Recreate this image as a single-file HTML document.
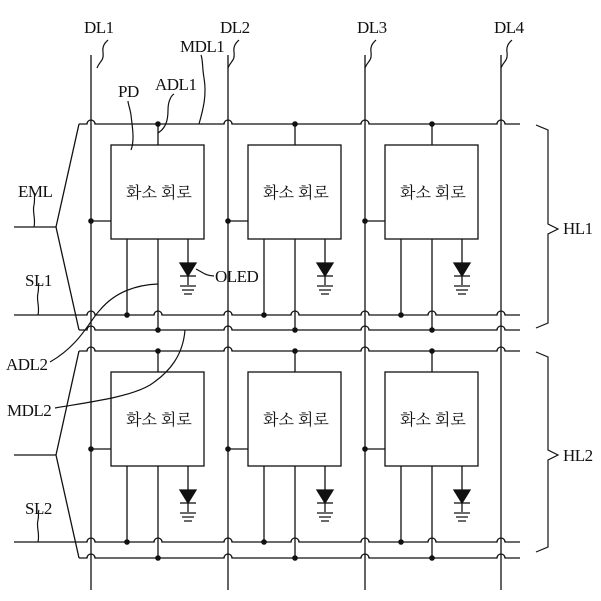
<!DOCTYPE html>
<html><head><meta charset="utf-8"><style>
html,body{margin:0;padding:0;background:#fff;}
svg{display:block;}
text{font-family:"Liberation Serif","Noto Serif CJK SC",serif;fill:#111;}
.k{font-family:"Liberation Serif","Noto Serif CJK SC","Noto Serif CJK KR",serif;font-size:16px;}
</style></head><body>
<svg id="s" width="601" height="601" viewBox="0 0 601 601" xmlns="http://www.w3.org/2000/svg">
<g id="g" stroke="#111" stroke-width="1.3" fill="none"></g>
<g fill="#111" font-size="17" letter-spacing="-0.5">
<text x="84" y="33">DL1</text>
<text x="220" y="33">DL2</text>
<text x="357" y="33">DL3</text>
<text x="494" y="33">DL4</text>
<text x="180" y="52">MDL1</text>
<text x="155" y="90">ADL1</text>
<text x="118" y="97">PD</text>
<text x="18" y="197">EML</text>
<text x="25" y="286">SL1</text>
<text x="215" y="282">OLED</text>
<text x="6" y="370">ADL2</text>
<text x="7" y="416">MDL2</text>
<text x="25" y="514">SL2</text>
<text x="563" y="234">HL1</text>
<text x="563" y="461">HL2</text>
</g>
<g>
<text class="k" x="126" y="198">화소 회로</text>
<text class="k" x="263" y="198">화소 회로</text>
<text class="k" x="400" y="198">화소 회로</text>
<text class="k" x="126" y="425">화소 회로</text>
<text class="k" x="263" y="425">화소 회로</text>
<text class="k" x="400" y="425">화소 회로</text>
</g>
<g stroke="#111" stroke-width="1.2" fill="none">
<path d="M97 68 C100 60,104 62,103 52 C102 45,106 42,108 40"/>
<path d="M228 68 C231 60,235 62,234 52 C233 45,237 42,239 40"/>
<path d="M365 68 C368 60,372 62,371 52 C370 45,374 42,376 40"/>
<path d="M501 68 C504 60,508 62,507 52 C506 45,510 42,512 40"/>
<path d="M199 124 C203 110,207 95,204 78 C202 66,203 60,201 55"/>
<path d="M158 133 C166 128,168 120,168 110 C168 100,172 95,174 94"/>
<path d="M131 150 C135 140,132 125,131 115 C130 108,128 104,128 101"/>
<path d="M34 227 C36 218,32 212,34 205 C35 200,34 195,35 193"/>
<path d="M38 315 C40 306,36 300,38 293 C39 288,38 285,39 283"/>
<path d="M38 542 C40 533,36 527,38 520 C39 515,38 512,39 510"/>
<path d="M196 269 C202 272,206 276,214 276"/>
<path d="M50 362 C80 345,90 320,100 310 C115 292,135 285,158 284"/>
<path d="M55 408 C90 402,130 397,150 385 C170 372,183 355,185 330"/>
<path d="M536 125 L548 130 L548 224 L558 229 L548 234 L548 323 L536 328"/>
<path d="M536 352 L548 357 L548 450 L558 455 L548 460 L548 547 L536 552"/>
</g>
</svg>
<script>
var g=document.getElementById('g');
var NS="http://www.w3.org/2000/svg";
function P(d,fill){var p=document.createElementNS(NS,'path');p.setAttribute('d',d);if(fill){p.setAttribute('fill','#111');}g.appendChild(p);}
function R(x,y,w,h){var p=document.createElementNS(NS,'rect');p.setAttribute('x',x);p.setAttribute('y',y);p.setAttribute('width',w);p.setAttribute('height',h);g.appendChild(p);}
function D(x,y){var c=document.createElementNS(NS,'circle');c.setAttribute('cx',x);c.setAttribute('cy',y);c.setAttribute('r',2.8);c.setAttribute('fill','#111');c.setAttribute('stroke','none');g.appendChild(c);}
function H(y,x0,x1,humps){humps.sort(function(a,b){return a-b});var d='M'+x0+' '+y;humps.forEach(function(h){d+=' L'+(h-4)+' '+y+' A4 4 0 0 1 '+(h+4)+' '+y;});d+=' L'+x1+' '+y;P(d);}
var DL=[91,228,365,501];
DL.forEach(function(x){P('M'+x+' 55 L'+x+' 590');});
var rows=[{t:124,bt:145,bb:239,sl:315,b:330,e:227,dy:221},{t:351,bt:372,bb:466,sl:542,b:558,e:455,dy:449}];
rows.forEach(function(r){
 P('M14 '+r.e+' L56 '+r.e+' L79 '+r.t+' M56 '+r.e+' L79 '+r.b);
 var xb=[];
 for(var c=0;c<3;c++){xb.push(158+137*c);}
 H(r.t,79,520,DL.slice());
 H(r.sl,14,520,DL.concat(xb));
 H(r.b,79,520,DL.slice());
 for(var c=0;c<3;c++){
  var o=137*c,bx=111+o,A=127+o,B=158+o,X=188+o,dl=DL[c];
  R(bx,r.bt,93,r.bb-r.bt);
  P('M'+B+' '+r.t+' L'+B+' '+r.bt);D(B,r.t);
  P('M'+B+' '+r.bb+' L'+B+' '+r.b);D(B,r.b);
  P('M'+A+' '+r.bb+' L'+A+' '+r.sl);D(A,r.sl);
  P('M'+dl+' '+r.dy+' L'+bx+' '+r.dy);D(dl,r.dy);
  var ty=r.bb+24;
  P('M'+X+' '+r.bb+' L'+X+' '+(ty+22));
  P('M'+(X-8)+' '+ty+' L'+(X+8)+' '+ty+' L'+X+' '+(ty+13)+' Z',true);
  P('M'+(X-8)+' '+(ty+13)+' L'+(X+8)+' '+(ty+13));
  P('M'+(X-8)+' '+(ty+23)+' L'+(X+8)+' '+(ty+23)+' M'+(X-6)+' '+(ty+27)+' L'+(X+6)+' '+(ty+27)+' M'+(X-4)+' '+(ty+31)+' L'+(X+4)+' '+(ty+31));
 }
});
</script>
</body></html>
